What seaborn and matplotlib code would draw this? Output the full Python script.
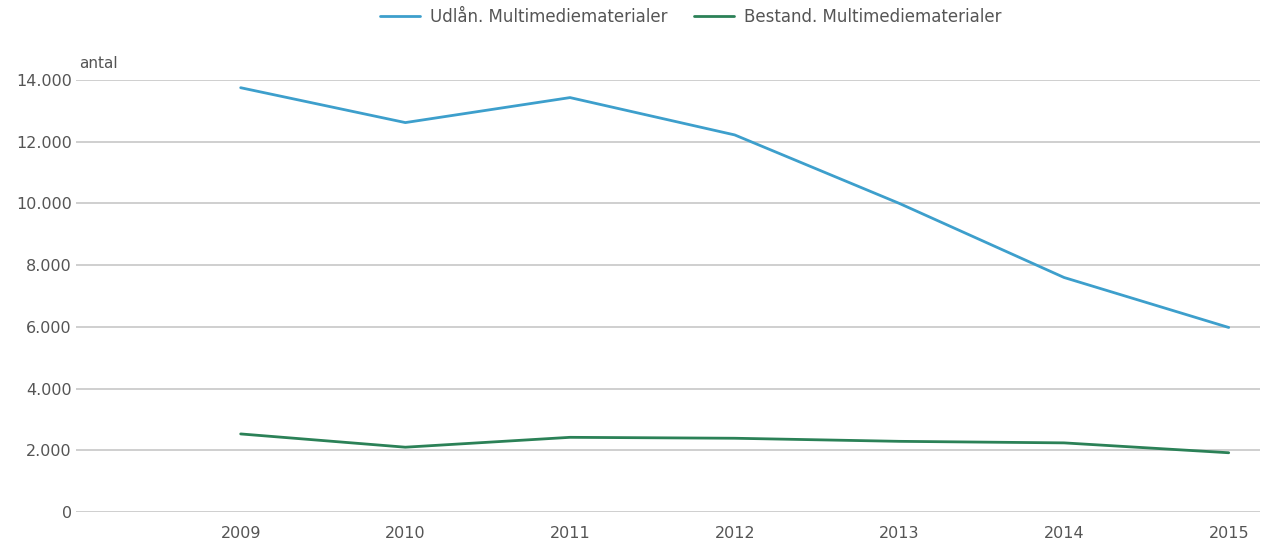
import matplotlib
matplotlib.use("Agg")
import matplotlib.pyplot as plt
import seaborn as sns
import pandas as pd
from matplotlib.ticker import FuncFormatter
from matplotlib.lines import Line2D

years = [2009, 2010, 2011, 2012, 2013, 2014, 2015]
udlaan = [13750, 12620, 13430, 12220, 10000, 7600, 5980]
bestand = [2530, 2100, 2420, 2390, 2290, 2240, 1920]
series_names = ["Udlån. Multimediematerialer", "Bestand. Multimediematerialer"]
colors = ["#3d9fcc", "#2b8157"]

df = pd.DataFrame({
    "year": years * 2,
    "value": udlaan + bestand,
    "serie": [series_names[0]] * len(years) + [series_names[1]] * len(years),
})

sns.set_theme(style="white")
plt.rcParams["font.family"] = ["DejaVu Sans"]

fig = plt.figure(figsize=(12.68, 5.43), dpi=100)
ax = fig.add_axes([76 / 1268, 31 / 543, 1184 / 1268, 432 / 543])

sns.lineplot(data=df, x="year", y="value", hue="serie", palette=colors,
             hue_order=series_names, linewidth=2, ax=ax, legend=False)

ax.set_xlim(2008.0, 2015.19)
ax.set_ylim(0, 14000)
ax.set_yticks(range(0, 14001, 2000))
ax.set_xticks(years)
ax.yaxis.set_major_formatter(FuncFormatter(lambda v, p: f"{int(v):,}".replace(",", ".")))
ax.grid(axis="y", color="#cccccc", linewidth=1.3)
ax.set_axisbelow(True)
for s in ax.spines.values():
    s.set_visible(False)
ax.tick_params(axis="both", length=0, labelsize=11.5, labelcolor="#555555")
ax.tick_params(axis="y", pad=3)
ax.tick_params(axis="x", pad=10)
ax.set_xlabel("")
ax.set_ylabel("")

fig.text(79 / 1268, 1 - 63 / 543, "antal", fontsize=11, color="#555555", ha="left", va="center")

handles = [Line2D([0], [0], color=c, linewidth=2) for c in colors]
fig.legend(handles, series_names, loc="center", bbox_to_anchor=(691 / 1268, 1 - 17 / 543),
           ncol=2, frameon=False, fontsize=12, labelcolor="#555555",
           handlelength=2.4, handletextpad=0.6, columnspacing=1.6)

fig.savefig("out.png", dpi=100)
